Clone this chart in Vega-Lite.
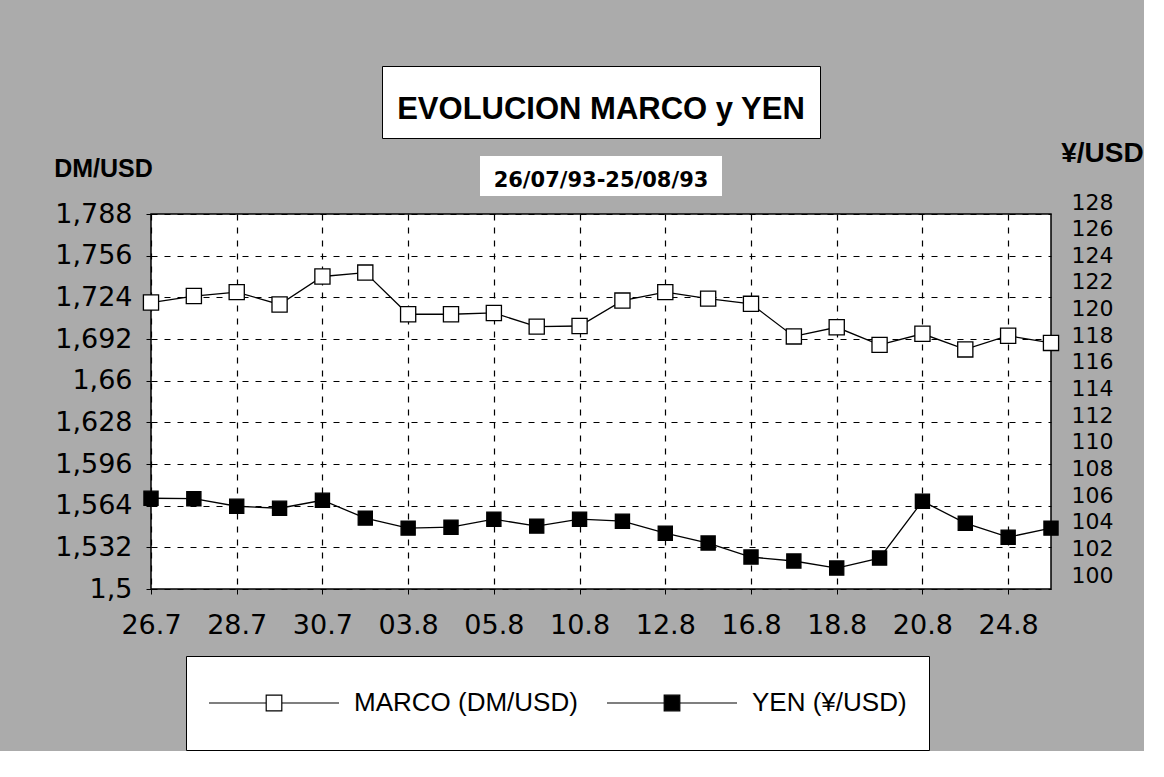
{
  "$schema": "https://vega.github.io/schema/vega-lite/v6.json",
  "background": "#ababab",
  "padding": {"left": 52, "top": 65, "right": 0, "bottom": 0},
  "config": {
    "view": {"stroke": null},
    "axis": {"labelFont": "DejaVu Sans", "labelColor": "black", "tickColor": "black", "domain": false, "gridColor": "black", "gridDash": [6, 7], "gridWidth": 1.2, "gridOpacity": 1}
  },
  "datasets": {
    "fx": [
      {"fecha": "26.7", "marco": 1.720, "yen": 105.76},
      {"fecha": "27.7", "marco": 1.725, "yen": 105.73},
      {"fecha": "28.7", "marco": 1.728, "yen": 105.16},
      {"fecha": "29.7", "marco": 1.7185, "yen": 105.01},
      {"fecha": "30.7", "marco": 1.740, "yen": 105.61},
      {"fecha": "02.8", "marco": 1.743, "yen": 104.27},
      {"fecha": "03.8", "marco": 1.711, "yen": 103.52},
      {"fecha": "04.8", "marco": 1.711, "yen": 103.59},
      {"fecha": "05.8", "marco": 1.712, "yen": 104.19},
      {"fecha": "06.8", "marco": 1.7015, "yen": 103.67},
      {"fecha": "10.8", "marco": 1.702, "yen": 104.19},
      {"fecha": "11.8", "marco": 1.7215, "yen": 104.04},
      {"fecha": "12.8", "marco": 1.728, "yen": 103.14},
      {"fecha": "13.8", "marco": 1.723, "yen": 102.40},
      {"fecha": "16.8", "marco": 1.719, "yen": 101.35},
      {"fecha": "17.8", "marco": 1.694, "yen": 101.05},
      {"fecha": "18.8", "marco": 1.701, "yen": 100.52},
      {"fecha": "19.8", "marco": 1.6875, "yen": 101.27},
      {"fecha": "20.8", "marco": 1.696, "yen": 105.54},
      {"fecha": "23.8", "marco": 1.684, "yen": 103.89},
      {"fecha": "24.8", "marco": 1.6945, "yen": 102.84},
      {"fecha": "25.8", "marco": 1.689, "yen": 103.52}
    ]
  },
  "bounds": "flush",
  "center": true,
  "spacing": 18,
  "vconcat": [
    {
      "width": 438, "height": 72,
      "view": {"fill": "white", "stroke": "black", "strokeWidth": 1},
      "data": {"values": [{"t": "EVOLUCION  MARCO y YEN"}]},
      "mark": {"type": "text", "font": "Liberation Sans", "fontWeight": "bold", "fontSize": 31, "dy": 8, "color": "black"},
      "encoding": {"text": {"field": "t"}}
    },
    {
      "width": 242, "height": 40,
      "view": {"fill": "white", "stroke": null},
      "data": {"values": [{"t": "26/07/93-25/08/93"}]},
      "mark": {"type": "text", "font": "DejaVu Sans", "fontWeight": "bold", "fontSize": 21, "dy": 5, "color": "black"},
      "encoding": {"text": {"field": "t"}}
    },
    {
      "width": 900, "height": 375,
      "view": {"fill": "white", "stroke": "black", "strokeWidth": 1.5},
      "data": {"name": "fx"},
      "encoding": {
        "x": {
          "field": "fecha", "type": "ordinal", "sort": null,
          "scale": {"type": "point", "padding": 0},
          "axis": {
            "values": ["26.7", "28.7", "30.7", "03.8", "05.8", "10.8", "12.8", "16.8", "18.8", "20.8", "24.8"],
            "labelAngle": 0, "title": null, "labelFontSize": 27, "tickSize": 5, "labelPadding": 18, "grid": true
          }
        }
      },
      "layer": [
        {
          "encoding": {
            "y": {
              "field": "marco", "type": "quantitative",
              "scale": {"domain": [1.5, 1.788], "nice": false, "zero": false},
              "axis": {
                "orient": "left",
                "values": [1.5, 1.532, 1.564, 1.596, 1.628, 1.66, 1.692, 1.724, 1.756, 1.788],
                "labelExpr": "replace(toString(datum.value), '.', ',')",
                "labelFontSize": 27, "tickSize": 5, "labelPadding": 14, "grid": true,
                "title": "DM/USD", "titleAngle": 0, "titleX": -48, "titleY": -46, "titleAlign": "center", "titleBaseline": "middle",
                "titleFont": "Liberation Sans", "titleFontWeight": "bold", "titleFontSize": 25, "titleColor": "black"
              }
            }
          },
          "layer": [
            {"mark": {"type": "line", "color": "black", "strokeWidth": 1.3}, "encoding": {}},
            {
              "mark": {"type": "point", "shape": "square", "size": 230, "filled": true, "stroke": "black", "strokeWidth": 1.3, "opacity": 1},
              "encoding": {
                "fill": {
                  "datum": "MARCO (DM/USD)", "type": "nominal",
                  "scale": {"domain": ["MARCO (DM/USD)", "YEN (¥/USD)"], "range": ["white", "black"]},
                  "legend": {
                    "orient": "none", "legendX": 35, "legendY": 590, "direction": "horizontal", "title": null,
                    "fillColor": "white", "strokeColor": "black", "padding": 22, "clipHeight": 50, "gridAlign": "all",
                    "symbolType": "M-1,0H-0.12M0.12,0H1M-0.12,-0.12H0.12V0.12H-0.12Z",
                    "symbolSize": 16900, "symbolStrokeColor": "black", "symbolStrokeWidth": 1.2, "symbolOpacity": 1,
                    "labelFont": "Liberation Sans", "labelFontSize": 26, "labelColor": "black", "labelOffset": 14,
                    "columnPadding": 28, "labelLimit": 400
                  }
                }
              }
            }
          ]
        },
        {
          "encoding": {
            "y": {
              "field": "yen", "type": "quantitative",
              "scale": {"domain": [100, 128], "range": [361, -12], "nice": false, "zero": false},
              "axis": {
                "orient": "right",
                "values": [100, 102, 104, 106, 108, 110, 112, 114, 116, 118, 120, 122, 124, 126, 128],
                "labelFontSize": 22, "tickSize": 0, "labelPadding": 20, "grid": false,
                "title": "¥/USD", "titleAngle": 0, "titleX": 51, "titleY": -61, "titleAlign": "center", "titleBaseline": "middle",
                "titleFont": "Liberation Sans", "titleFontWeight": "bold", "titleFontSize": 28, "titleColor": "black"
              }
            }
          },
          "layer": [
            {"mark": {"type": "line", "color": "black", "strokeWidth": 1.3}, "encoding": {}},
            {
              "mark": {"type": "point", "shape": "square", "size": 200, "filled": true, "stroke": "black", "strokeWidth": 1.3, "opacity": 1},
              "encoding": {"fill": {"datum": "YEN (¥/USD)", "type": "nominal"}}
            }
          ]
        }
      ],
      "resolve": {"scale": {"y": "independent"}, "axis": {"y": "independent"}}
    }
  ]
}
